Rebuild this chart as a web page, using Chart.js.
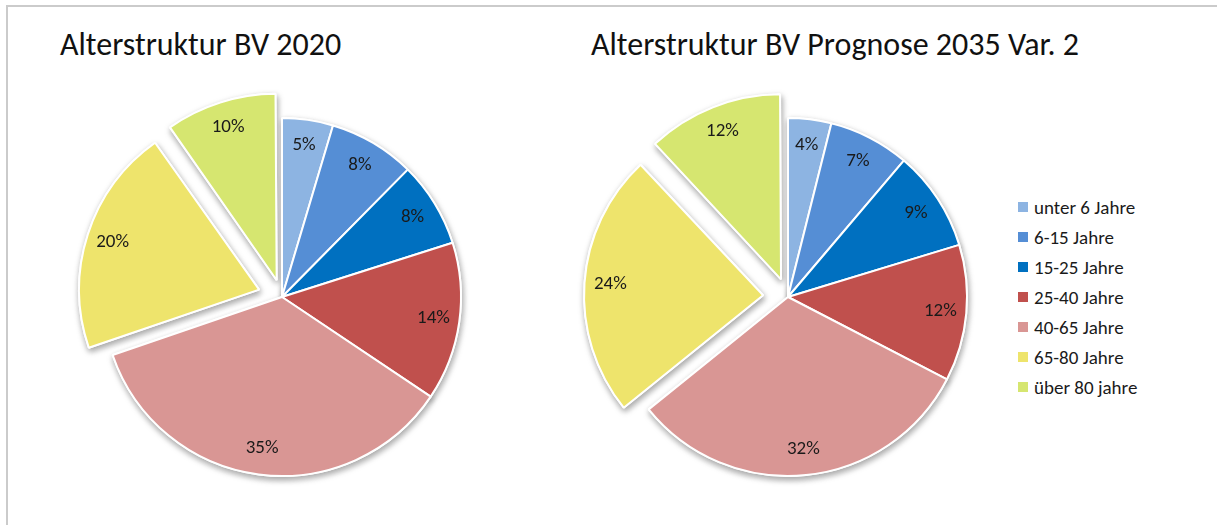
<!DOCTYPE html>
<html><head><meta charset="utf-8">
<script src="https://cdn.jsdelivr.net/npm/chart.js@4/dist/chart.umd.min.js"></script>
<style>
html,body{margin:0;padding:0;width:1217px;height:525px;overflow:hidden;background:#fff;}
body{font-family:Carlito,Lato,"Liberation Sans",sans-serif;color:#1a1a1a;position:relative;}
#frame{position:absolute;left:6px;top:5px;width:1300px;height:600px;border:2px solid #cbcbcb;box-sizing:border-box;}
.title{position:absolute;font-size:32px;white-space:nowrap;line-height:1;color:#111;}
.box{position:absolute;width:460px;height:460px;}
#legend{position:absolute;left:1018px;top:192px;}
.li{height:30px;display:flex;align-items:center;font-size:19px;white-space:nowrap;line-height:1;color:#1a1a1a;}
.sw{width:10px;height:10px;margin-right:6px;flex:none;}
</style>
</head><body>
<div id="frame"></div>
<div class="title" id="t1" style="left:60px;top:29px;"></div>
<div class="title" id="t2" style="left:591px;top:29px;"></div>
<div class="box" style="left:52px;top:67px;"><canvas id="c1" width="460" height="460"></canvas></div>
<div class="box" style="left:558px;top:67px;"><canvas id="c2" width="460" height="460"></canvas></div>
<div id="legend"></div>
<script>
const categories = ['unter 6 Jahre','6-15 Jahre','15-25 Jahre','25-40 Jahre','40-65 Jahre','65-80 Jahre','über 80 jahre'];
// shares in percent (labels show rounded values)
const values2020 = [4.6, 7.8, 7.7, 14.3, 35.35, 20.45, 9.8];
const values2035 = [3.9, 7.3, 9.1, 12.3, 31.6, 23.8, 12.0];
const title2020 = 'Alterstruktur BV 2020';
const title2035 = 'Alterstruktur BV Prognose 2035 Var. 2';
const exploded = [false, false, false, false, false, true, true];
const colors = ['#8DB4E2', '#558ED5', '#0070C0', '#C0504D', '#D99694', '#EEE46C', '#D6E670'];

const EXPLODE_PX = 25;
const RADIUS = 179;
const FONT = 'Carlito, Lato, "Liberation Sans", sans-serif';

document.getElementById('t1').textContent = title2020;
document.getElementById('t2').textContent = title2035;

const legend = document.getElementById('legend');
categories.forEach((c, i) => {
  const row = document.createElement('div'); row.className = 'li';
  const sw = document.createElement('span'); sw.className = 'sw'; sw.style.background = colors[i];
  const tx = document.createElement('span'); tx.textContent = c;
  row.appendChild(sw); row.appendChild(tx); legend.appendChild(row);
});

function offsetFor(values) {
  const sum = values.reduce((a, b) => a + b, 0);
  return values.map((v, i) => {
    if (!exploded[i]) return 0;
    const circ = 2 * Math.PI * v / sum;
    const fix = 1 - Math.sin(Math.min(Math.PI, circ));
    return 4 * EXPLODE_PX / (1 + fix);
  });
}

const shadowPlugin = {
  id: 'shadow',
  beforeDatasetsDraw(chart) {
    const ctx = chart.ctx;
    ctx.save();
    ctx.shadowColor = 'rgba(0,0,0,0.35)';
    ctx.shadowBlur = 6;
    ctx.shadowOffsetX = 1;
    ctx.shadowOffsetY = 3;
    chart.getDatasetMeta(0).data.forEach(a => a.draw(ctx));
    ctx.restore();
  }
};

const labelPlugin = {
  id: 'pctLabels',
  afterDatasetsDraw(chart) {
    const ctx = chart.ctx;
    const vals = chart.data.datasets[0].data;
    ctx.save();
    ctx.font = '19px ' + FONT;
    ctx.fillStyle = '#1a1a1a';
    ctx.textAlign = 'center';
    ctx.textBaseline = 'middle';
    chart.getDatasetMeta(0).data.forEach((arc, i) => {
      const p = arc.getProps(['x', 'y', 'startAngle', 'endAngle', 'outerRadius', 'circumference'], true);
      const off = (arc.options.offset || 0) / 4;
      const fix = 1 - Math.sin(Math.min(Math.PI, p.circumference));
      const t = off * (1 + fix);
      const mid = (p.startAngle + p.endAngle) / 2;
      const r = t + 0.855 * p.outerRadius;
      ctx.fillText(Math.round(vals[i]) + '%', p.x + Math.cos(mid) * r, p.y + Math.sin(mid) * r);
    });
    ctx.restore();
  }
};

function makePie(id, values) {
  return new Chart(document.getElementById(id), {
    type: 'pie',
    data: {
      labels: categories,
      datasets: [{
        data: values,
        backgroundColor: colors,
        borderColor: '#ffffff',
        borderWidth: 2,
        offset: offsetFor(values),
        radius: RADIUS
      }]
    },
    options: {
      responsive: false,
      animation: false,
      events: [],
      layout: { padding: 0 },
      plugins: { legend: { display: false }, tooltip: { enabled: false }, title: { display: false } }
    },
    plugins: [shadowPlugin, labelPlugin]
  });
}

makePie('c1', values2020);
makePie('c2', values2035);
</script>
</body></html>
